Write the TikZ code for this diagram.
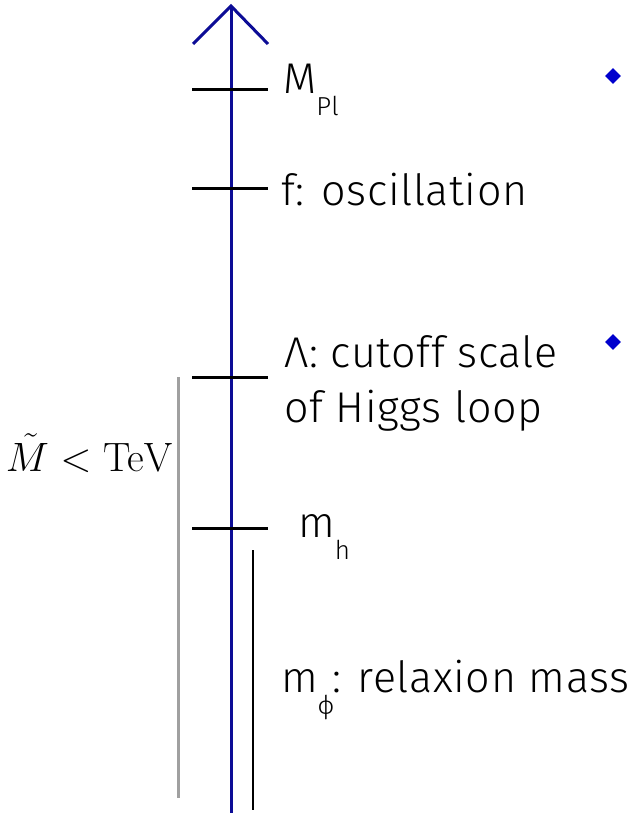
\documentclass[tikz,border=0pt]{standalone}
\usepackage{fix-cm}
\usepackage[no-math]{fontspec}
\setmainfont{Fira Sans Light}[LetterSpace=1.5]
\usetikzlibrary{shapes.geometric}
\definecolor{axisblue}{RGB}{12,12,150}
\definecolor{dotblue}{RGB}{0,0,205}
\definecolor{rulegray}{RGB}{160,160,160}
\newcommand{\subtxt}[1]{\raisebox{-0.5em}{\fontsize{26}{28}\selectfont #1}}
\tikzset{
  axisline/.style={axisblue, line width=3pt},
  tick/.style={black, line width=3pt},
  lab/.style={anchor=west, inner sep=0pt, font=\fontsize{43}{55}\selectfont},
  bullet/.style={diamond, fill=dotblue, inner sep=0pt, minimum size=16pt},
}
\begin{document}
\begin{tikzpicture}[x=1pt,y=-1pt]
\useasboundingbox (0,0) rectangle (641,813);
% axis
\coordinate (bot) at (231,813);
\coordinate (top) at (231,6);
\coordinate (al) at (193,44);
\coordinate (ar) at (268,44);
\draw[axisline] (bot) -- (top);
\draw[axisline, line join=miter] (al) -- (top) -- (ar);
% ticks
\coordinate (t1l) at (192,90);  \coordinate (t1r) at (268,90);
\coordinate (t2l) at (192,188); \coordinate (t2r) at (268,188);
\coordinate (t3l) at (192,377); \coordinate (t3r) at (268,377);
\coordinate (t4l) at (192,528); \coordinate (t4r) at (268,528);
\draw[tick] (t1l) -- (t1r);
\draw[tick] (t2l) -- (t2r);
\draw[tick] (t3l) -- (t3r);
\draw[tick] (t4l) -- (t4r);
% labels
\node[lab] (mpl) at (283,90) {M\subtxt{Pl}};
\node[lab] (fosc) at (281,190) {f: oscillation};
\node[lab, align=left] (lam) at (284,383) {Λ: cutoff scale\\of Higgs loop};
\node[lab] (mh) at (298,537) {m\subtxt{h}};
\node[lab] (mphi) at (281,690) {m\subtxt{ϕ}\kern-2pt: relaxion mass};
% side lines
\coordinate (g1) at (178,377); \coordinate (g2) at (178,798);
\draw[rulegray, line width=3pt] (g1) -- (g2);
\coordinate (k1) at (253,550); \coordinate (k2) at (253,810);
\draw[black, line width=2pt] (k1) -- (k2);
\node[anchor=east, inner sep=0pt, font=\fontsize{41}{46}\selectfont] (mt) at (173,453) {$\tilde{M} < \mathrm{TeV}$};
% bullets
\node[bullet] (b1) at (613,76) {};
\node[bullet] (b2) at (613,342) {};
\end{tikzpicture}
\end{document}
